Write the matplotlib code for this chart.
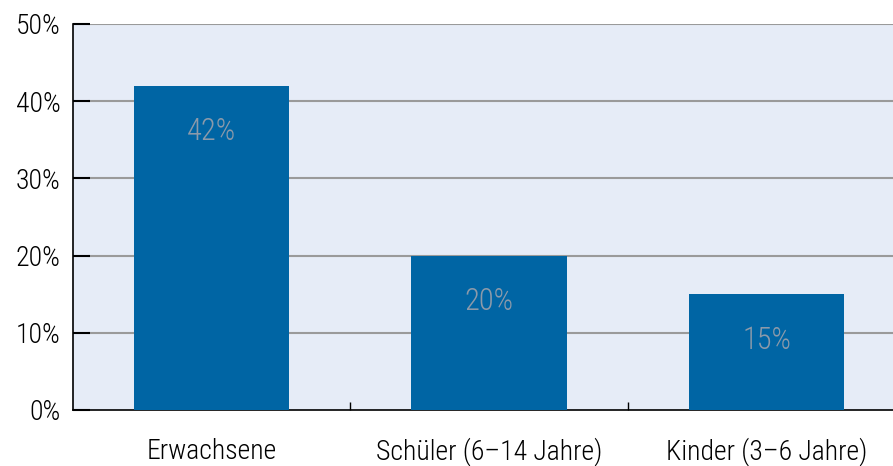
import matplotlib
matplotlib.use("Agg")
import matplotlib.pyplot as plt
from matplotlib import font_manager

# data
categories = ["Erwachsene", "Schüler (6–14 Jahre)", "Kinder (3–6 Jahre)"]
values = [42, 20, 15]
yticks = [0, 10, 20, 30, 40, 50]

# condensed sans, like the original
names = {f.name for f in font_manager.fontManager.ttflist}
fam = "DejaVu Sans"
for cand in ["Roboto Condensed", "Archivo Narrow", "Liberation Sans Narrow", "Asap Condensed"]:
    if cand in names:
        fam = cand
        break
plt.rcParams["font.family"] = [fam, "DejaVu Sans"]
plt.rcParams["font.weight"] = "light"

fig = plt.figure(figsize=(8.93, 4.66), dpi=100)
ax = fig.add_axes([73 / 893, 1 - 410 / 466, 1 - 73 / 893, (410 - 24) / 466])
ax.set_facecolor("#e6ecf7")

x = range(len(categories))
bars = ax.bar(x, values, width=0.56, color="#0065a4", zorder=3)

for b, v in zip(bars, values):
    ax.annotate(f"{v}%", (b.get_x() + b.get_width() / 2, v),
                xytext=(0, -33), textcoords="offset points",
                ha="center", va="center", fontsize=22, color="#8c9aaa", zorder=4)

ax.set_ylim(0, 50)
ax.set_xlim(-0.5, 2.456)
ax.set_yticks(yticks)
ax.set_yticklabels([f"{t}%" for t in yticks], fontsize=20)
ax.set_xticks(x)
ax.set_xticklabels(categories, fontsize=20)
ax.tick_params(axis="x", length=0, pad=20)
ax.tick_params(axis="y", direction="in", length=12, width=1.5, pad=9)

# category separators on the x axis
ax.set_xticks([0.5, 1.5], minor=True)
ax.tick_params(axis="x", which="minor", direction="in", length=6, width=1)

for y in yticks[1:]:
    ax.axhline(y, xmin=0.02, xmax=1, color="#9a9a9a", lw=1.5, zorder=1)

for s in ["top", "right"]:
    ax.spines[s].set_visible(False)
ax.spines["left"].set_linewidth(1.2)
ax.spines["bottom"].set_linewidth(1.2)

fig.savefig("out.png", dpi=100)
